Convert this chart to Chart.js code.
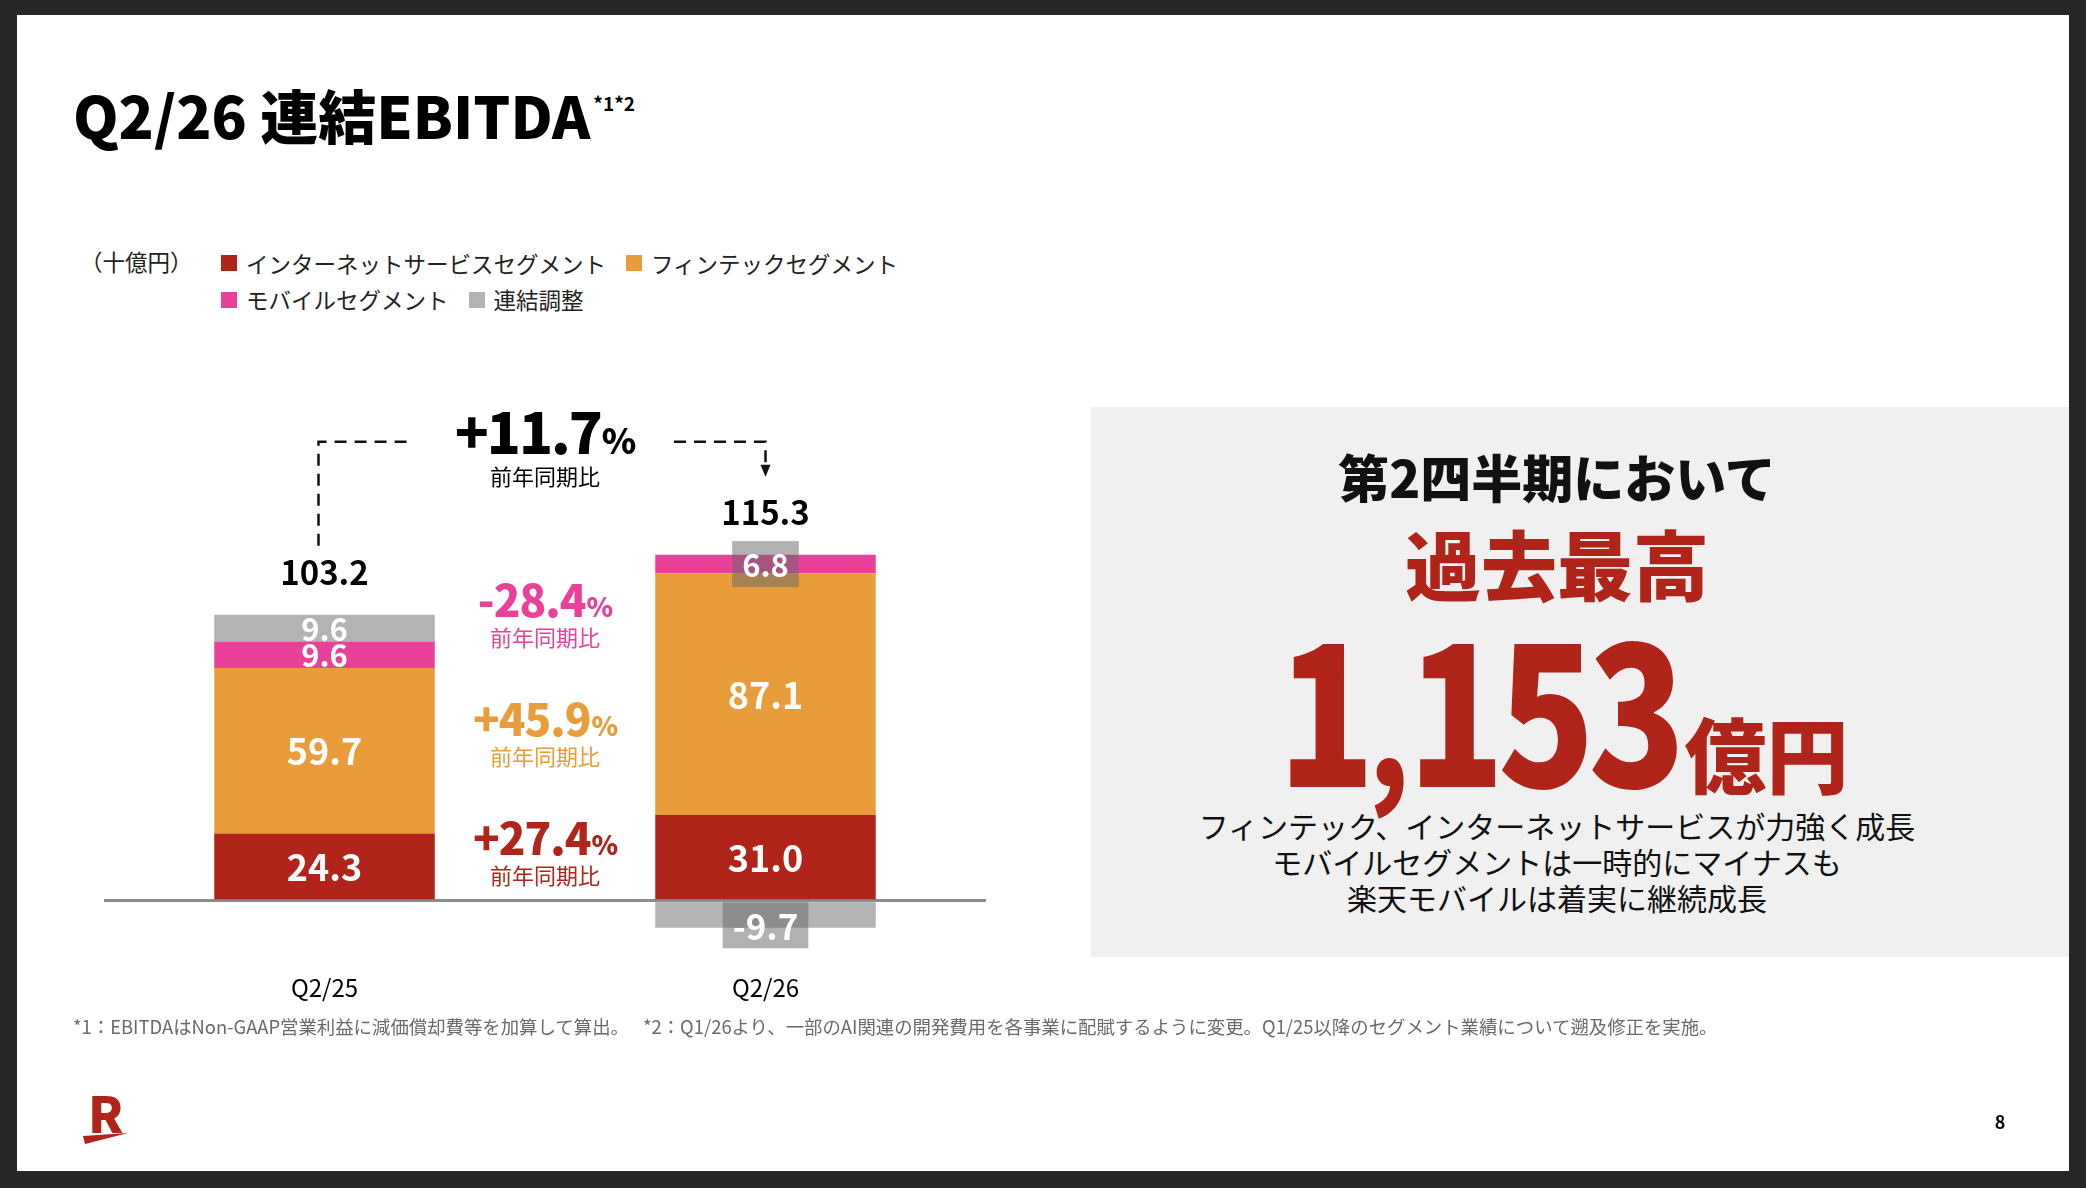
<!DOCTYPE html>
<html lang="ja">
<head>
<meta charset="utf-8">
<script src="https://cdn.jsdelivr.net/npm/chart.js@4.4.1/dist/chart.umd.min.js"></script>
<style>
  html, body { margin: 0; padding: 0; }
  body {
    width: 2086px; height: 1188px; position: relative; overflow: hidden;
    background: #272727;
    font-family: "Noto Sans CJK JP", "Noto Sans", sans-serif;
    color: #000;
  }
  #slide { position: absolute; left: 17px; top: 15px; width: 2052px; height: 1156px; background: #fff; }
  .abs { position: absolute; line-height: 1; white-space: nowrap; }
  #title { left: 73px; top: 85px; font-size: 58px; font-weight: 900; }
  #title sup { font-size: 19px; font-weight: 700; vertical-align: top; position: relative; top: 8px; margin-left: 3px; }
  #unit { left: 80px; top: 244px; font-size: 22.5px; line-height: 35px; color: #222; }
  #legend { position: absolute; left: 221px; top: 244px; font-size: 22.5px; line-height: 35px; color: #222; white-space: nowrap; }
  #legend .item { display: inline-flex; align-items: center; margin-right: 20px; }
  #legend .sw { width: 16px; height: 16px; margin-right: 9px; display: inline-block; }
  #panel { position: absolute; left: 1091px; top: 407px; width: 978px; height: 550px; background: #f0f0f0; }
  .ctr { position: absolute; left: 1091px; width: 932px; text-align: center; line-height: 1; white-space: nowrap; }
  #p1 { top: 451px; font-size: 51px; font-weight: 900; color: #111; }
  #p2 { top: 524px; font-size: 76px; font-weight: 900; color: #b0241a; }
  #p3 { top: 607px; font-size: 192px; font-weight: 900; color: #b0241a; }
  #p3 .num { display: inline-block; letter-spacing: -8px; transform: scaleX(0.83); transform-origin: right center; margin-left: -70px; }
  #p3 .comma { font-size: 140px; letter-spacing: -2px; }
  #p3 .unit { font-size: 82px; margin-left: 6px; }
  #p4 { top: 807px; font-size: 30px; line-height: 36px; color: #111; }
  #note { left: 73px; top: 1017px; font-size: 18.4px; color: #6a6a6a; }
  #note .gap { display: inline-block; width: 14px; }
  #logo { left: 88px; top: 1086px; font-size: 50px; font-weight: 900; color: #b0241a; }
  #page { left: 1980px; width: 40px; text-align: center; top: 1112px; font-size: 18px; font-weight: 700; }
  #chart { position: absolute; left: 104px; top: 402px; width: 882px; height: 617px; }
</style>
</head>
<body>
<div id="slide"></div>

<div id="title" class="abs">Q2/26 連結EBITDA<sup>*1*2</sup></div>
<div id="unit" class="abs">（十億円）</div>
<div id="legend"></div>

<canvas id="chart" width="882" height="617"></canvas>

<div id="panel"></div>
<div id="p1" class="ctr">第2四半期において</div>
<div id="p2" class="ctr">過去最高</div>
<div id="p3" class="ctr"><span class="num">1<span class="comma">,</span>153</span><span class="unit">億円</span></div>
<div id="p4" class="ctr">フィンテック、インターネットサービスが力強く成長<br>モバイルセグメントは一時的にマイナスも<br>楽天モバイルは着実に継続成長</div>

<div id="note" class="abs">*1：EBITDAはNon-GAAP営業利益に減価償却費等を加算して算出。<span class="gap"></span>*2：Q1/26より、一部のAI関連の開発費用を各事業に配賦するように変更。Q1/25以降のセグメント業績について遡及修正を実施。</div>

<div id="logo" class="abs">R</div>
<svg style="position:absolute;left:0;top:0" width="2086" height="1188">
  <polygon points="83,1136 128,1133 85,1144" fill="#b0241a"/>
</svg>
<div id="page" class="abs">8</div>

<script>
// 区分とデータ（十億円）
const categories = ['Q2/25', 'Q2/26'];
const seriesNames = ['インターネットサービスセグメント', 'フィンテックセグメント', 'モバイルセグメント', '連結調整'];
const seriesColors = ['#b0241a', '#e89c3a', '#e9409a', '#b3b3b3'];
const internetValues = [24.3, 31.0];
const fintechValues = [59.7, 87.1];
const mobileValues = [9.6, 6.8];
const adjustValues = [9.6, -9.7];
const totalValues = [103.2, 115.3];

// 前年同期比
const totalGrowth = '+11.7';
const segmentGrowth = ['+27.4', '+45.9', '-28.4']; // internet, fintech, mobile

// leyenda html
const legendEl = document.getElementById('legend');
seriesNames.forEach((name, i) => {
  const item = document.createElement('span');
  item.className = 'item';
  const sw = document.createElement('span');
  sw.className = 'sw';
  sw.style.background = seriesColors[i];
  item.appendChild(sw);
  item.appendChild(document.createTextNode(name));
  legendEl.appendChild(item);
  if (i === 1) legendEl.appendChild(document.createElement('br'));
});

const FONT = '"Noto Sans CJK JP", "Noto Sans", sans-serif';

function drawGrowth(ctx, x, cy, txt, color, size, subGap, spacing) {
  const big = `800 ${size}px ${FONT}`;
  const small = `800 ${Math.round(size * 0.62)}px ${FONT}`;
  ctx.letterSpacing = spacing + 'px';
  ctx.font = big;
  const w1 = ctx.measureText(txt).width;
  ctx.letterSpacing = '0px';
  ctx.font = small;
  const w2 = ctx.measureText('%').width;
  const left = x - (w1 + w2) / 2;
  const base = cy + size * 0.36;
  ctx.fillStyle = color;
  ctx.textAlign = 'left';
  ctx.textBaseline = 'alphabetic';
  ctx.letterSpacing = spacing + 'px';
  ctx.font = big;
  ctx.fillText(txt, left, base);
  ctx.letterSpacing = '0px';
  ctx.font = small;
  ctx.fillText('%', left + w1 + 1, base);
  ctx.font = `400 22px ${FONT}`;
  ctx.textAlign = 'center';
  ctx.textBaseline = 'middle';
  ctx.fillText('前年同期比', x, cy + subGap);
}

const labelPlugin = {
  id: 'segmentLabels',
  afterDatasetsDraw(chart) {
    const ctx = chart.ctx;
    const yScale = chart.scales.y;
    ctx.save();

    // etiquetas de cada segmento
    chart.data.datasets.forEach((ds, di) => {
      chart.getDatasetMeta(di).data.forEach((bar, i) => {
        const v = ds.data[i];
        const top = Math.min(bar.y, bar.base);
        const h = Math.abs(bar.base - bar.y);
        let size = h < 40 ? 31 : 36;
        if (v < 0) size = 35;
        ctx.font = `700 ${size}px ${FONT}`;
        ctx.textAlign = 'center';
        ctx.textBaseline = 'middle';
        const txt = v.toFixed(1);
        let cy = top + h / 2;
        if (i === 1 && h < 40) {
          const w = ctx.measureText(txt).width + 20;
          const bh = 46;
          const by = v < 0 ? top : cy - bh / 2;
          ctx.fillStyle = 'rgba(105,105,105,0.52)';
          ctx.fillRect(bar.x - w / 2, by, w, bh);
          cy = by + bh / 2;
        }
        ctx.fillStyle = '#fff';
        ctx.fillText(txt, bar.x, cy + 1);
      });
    });

    // totales
    const bars = chart.getDatasetMeta(0).data;
    const totalY = [];
    categories.forEach((c, i) => {
      let pos = 0;
      chart.data.datasets.forEach(ds => { if (ds.data[i] > 0) pos += ds.data[i]; });
      const ty = yScale.getPixelForValue(pos) - 42;
      totalY.push(ty);
      ctx.font = `700 33px ${FONT}`;
      ctx.fillStyle = '#000';
      ctx.textAlign = 'center';
      ctx.textBaseline = 'middle';
      ctx.fillText(totalValues[i].toFixed(1), bars[i].x, ty);
    });

    // crecimiento
    const mid = (bars[0].x + bars[1].x) / 2;
    const bigY = yScale.getPixelForValue(168.5);
    drawGrowth(ctx, mid, bigY, totalGrowth, '#000', 56, 43, -2);
    const anchors = [22.3, 65.2, 108.2];
    segmentGrowth.forEach((g, k) => {
      drawGrowth(ctx, mid, yScale.getPixelForValue(anchors[k]), g, seriesColors[k], 44, 37, -1);
    });

    // flecha punteada
    const lineY = bigY + 8;
    const lx = bars[0].x - 6;
    const rx = bars[1].x;
    const tip = totalY[1] - 36;
    ctx.strokeStyle = '#111';
    ctx.lineWidth = 2.5;
    ctx.setLineDash([12, 8]);
    ctx.beginPath();
    ctx.moveTo(lx, totalY[0] - 27);
    ctx.lineTo(lx, lineY);
    ctx.lineTo(mid - 131, lineY);
    ctx.moveTo(mid + 129, lineY);
    ctx.lineTo(rx, lineY);
    ctx.lineTo(rx, tip - 11);
    ctx.stroke();
    ctx.setLineDash([]);
    ctx.fillStyle = '#111';
    ctx.beginPath();
    ctx.moveTo(rx - 5, tip - 12);
    ctx.lineTo(rx + 5, tip - 12);
    ctx.lineTo(rx, tip);
    ctx.closePath();
    ctx.fill();

    ctx.restore();
  }
};

Chart.defaults.font.family = FONT;

new Chart(document.getElementById('chart'), {
  type: 'bar',
  data: {
    labels: categories,
    datasets: [
      { label: seriesNames[0], data: internetValues, backgroundColor: seriesColors[0] },
      { label: seriesNames[1], data: fintechValues, backgroundColor: seriesColors[1] },
      { label: seriesNames[2], data: mobileValues, backgroundColor: seriesColors[2] },
      { label: seriesNames[3], data: adjustValues, backgroundColor: seriesColors[3] }
    ]
  },
  options: {
    responsive: false,
    devicePixelRatio: 1,
    animation: false,
    layout: { padding: 0 },
    datasets: { bar: { barPercentage: 0.5, categoryPercentage: 1, borderWidth: 0 } },
    plugins: { legend: { display: false }, tooltip: { enabled: false } },
    scales: {
      x: {
        stacked: true,
        grid: { display: false, drawTicks: false },
        border: { display: false },
        ticks: { color: '#000', padding: 17, font: { size: 24, weight: 400 } }
      },
      y: {
        stacked: true,
        min: -20,
        max: 180,
        z: 1,
        ticks: { display: false, stepSize: 20 },
        border: { display: false },
        grid: {
          drawTicks: false,
          lineWidth: 3,
          color: c => c.tick.value === 0 ? '#8c8c8c' : 'rgba(0,0,0,0)'
        }
      }
    }
  },
  plugins: [labelPlugin]
});
</script>
</body>
</html>
